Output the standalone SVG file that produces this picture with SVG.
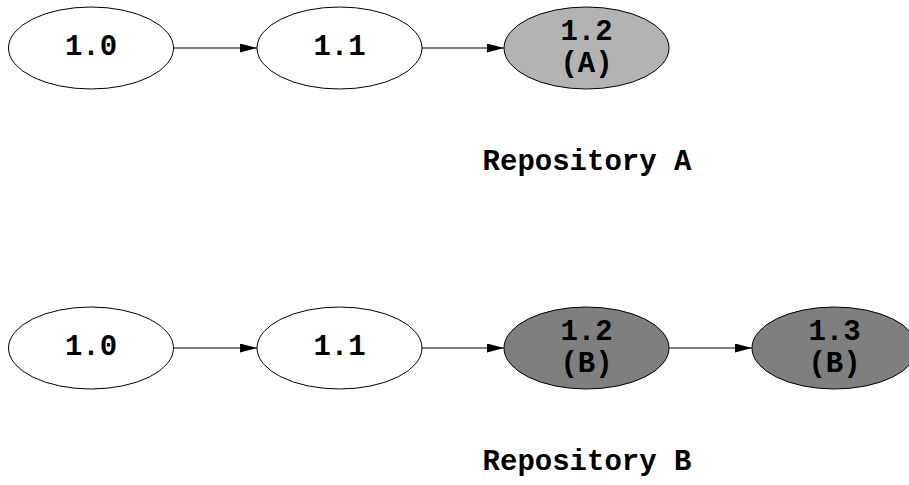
<svg xmlns="http://www.w3.org/2000/svg" width="909" height="485" viewBox="0 0 909 485">
<style>
.n{stroke:#000;stroke-width:1}
.w{fill:#fff}
.la{fill:#b3b3b3}
.dk{fill:#7f7f7f}
text{font-family:"Liberation Mono","Courier New",monospace;font-weight:bold;font-size:29px;text-anchor:middle;fill:#000}
.e{stroke:#000;stroke-width:1;fill:none}
</style>
<defs>
<marker id="ah" viewBox="0 0 17 9" refX="17" refY="4.5" markerWidth="17" markerHeight="9" markerUnits="userSpaceOnUse" orient="auto">
<path d="M0,0 L17,4.5 L0,9 Z" fill="#000"/>
</marker>
</defs>
<rect width="909" height="485" fill="#fff"/>
<g id="connectors">
<line class="e" x1="174" y1="48" x2="257" y2="48" marker-end="url(#ah)"/>
<line class="e" x1="422" y1="48" x2="504" y2="48" marker-end="url(#ah)"/>
<line class="e" x1="174" y1="348" x2="257" y2="348" marker-end="url(#ah)"/>
<line class="e" x1="422" y1="348" x2="504" y2="348" marker-end="url(#ah)"/>
<line class="e" x1="669" y1="348" x2="752" y2="348" marker-end="url(#ah)"/>
</g>
<g id="a10"><ellipse class="n w" cx="91" cy="48" rx="82.5" ry="41"/><text x="91" y="55">1.0</text></g>
<g id="a11"><ellipse class="n w" cx="339.5" cy="48" rx="82.5" ry="41"/><text x="339.5" y="55">1.1</text></g>
<g id="a12"><ellipse class="n la" cx="586.5" cy="48" rx="82.5" ry="41"/><text x="586.5" y="40">1.2</text><text x="586.5" y="72">(A)</text></g>
<g id="labelA"><text x="587" y="170">Repository A</text></g>
<g id="b10"><ellipse class="n w" cx="91" cy="348" rx="82.5" ry="41"/><text x="91" y="355">1.0</text></g>
<g id="b11"><ellipse class="n w" cx="339.5" cy="348" rx="82.5" ry="41"/><text x="339.5" y="355">1.1</text></g>
<g id="b12"><ellipse class="n dk" cx="586.5" cy="348" rx="82.5" ry="41"/><text x="586.5" y="340">1.2</text><text x="586.5" y="372">(B)</text></g>
<g id="b13"><ellipse class="n dk" cx="834.5" cy="348" rx="82.5" ry="41"/><text x="834.5" y="340">1.3</text><text x="834.5" y="372">(B)</text></g>
<g id="labelB"><text x="587" y="470">Repository B</text></g>
</svg>
